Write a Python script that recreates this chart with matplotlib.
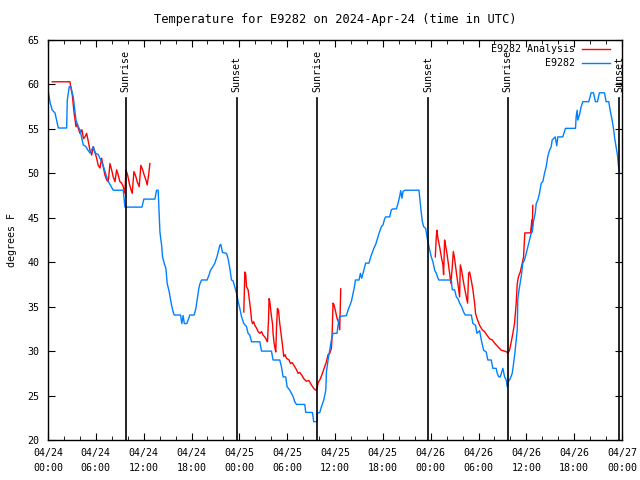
import pandas as pd
import matplotlib
matplotlib.use("Agg")
import matplotlib.pyplot as plt
import matplotlib.dates as mdates

plt.rcParams['font.family'] = ['DejaVu Sans Mono']
plt.rcParams['font.size'] = 7.2

start = pd.Timestamp("2024-04-24 00:00")

# hours since 04/24 00:00 UTC, temperature in F
obs_h = [0.0, 0.04, 0.25, 0.54, 0.88, 1.29, 2.34, 2.42, 2.67, 2.88, 3.05, 3.17, 3.51, 3.76, 4.01,
         4.42, 4.76, 5.01, 5.26, 5.68, 5.89, 6.3, 6.73, 7.02, 7.36, 7.56, 8.18, 9.44, 9.65, 11.78,
         12.03, 13.41, 13.62, 13.82, 13.91, 14.04, 14.25, 14.37, 14.57, 14.79, 14.95, 15.2, 15.38,
         15.54, 15.7, 15.83, 16.63, 16.79, 16.95, 17.1, 17.42, 17.79, 18.33, 18.55, 18.71, 18.92,
         19.05, 19.26, 19.96, 20.21, 20.39, 20.68, 20.93, 21.22, 21.55, 21.68, 21.89, 22.39, 22.59,
         22.81, 23.02, 23.22, 23.43, 23.65, 23.85, 24.06, 24.27, 24.56, 24.9, 25.1, 25.31, 25.53,
         26.57, 26.78, 28.03, 28.23, 29.07, 29.28, 29.49, 29.82, 29.99, 30.33, 30.54, 30.74, 30.95,
         31.17, 32.21, 32.33, 33.17, 33.33, 33.75, 33.76, 34.09, 34.3, 34.59, 34.84, 34.93, 35.13,
         35.34, 35.55, 35.75, 36.25, 36.38, 36.59, 37.43, 37.63, 37.84, 38.06, 38.26, 38.47, 38.56,
         39.01, 39.19, 39.35, 39.51, 39.85, 40.26, 40.48, 40.69, 40.89, 41.1, 41.31, 41.52, 41.82,
         42.02, 42.23, 42.36, 42.86, 43.07, 43.27, 43.7, 43.9, 44.11, 44.24, 44.4, 44.55, 44.82,
         46.53, 46.7, 46.83, 46.95, 47.12, 47.37, 47.53, 47.71, 47.87, 48.08, 48.28, 48.5, 48.71,
         48.91, 49.03, 50.59, 50.71, 51.0, 51.22, 51.42, 51.63, 51.88, 52.13, 52.34, 53.1, 53.3,
         53.63, 53.8, 54.14, 54.35, 54.64, 54.97, 55.17, 55.6, 55.8, 56.22, 56.35, 56.55, 56.73,
         57.06, 57.27, 57.48, 57.6, 57.77, 57.98, 58.23, 58.4, 58.56, 58.73, 58.86, 58.93, 59.15,
         59.36, 59.56, 59.77, 59.99, 60.19, 60.4, 60.61, 60.74, 60.9, 61.11, 61.24, 61.44, 61.65,
         61.87, 62.07, 62.28, 62.49, 62.69, 62.91, 63.12, 63.24, 63.41, 63.62, 63.82, 63.95, 64.57,
         64.91, 66.17, 66.25, 66.38, 66.45, 66.67, 66.88, 67.08, 67.83, 68.13, 68.42, 68.67, 68.92,
         69.17, 69.8, 70.01, 70.34, 70.51, 70.76, 70.93, 71.09, 71.26, 71.43, 71.55, 71.68]
obs_t = [59.3, 59.2, 58.0, 57.1, 56.8, 55.1, 55.1, 58.25, 59.75, 59.75, 59.0, 58.6, 56.0, 55.3, 54.9,
         53.2, 53.0, 52.6, 52.3, 53.0, 52.3, 52.1, 51.3, 50.6, 49.6, 49.1, 48.1, 48.1, 46.2, 46.2,
         47.1, 47.1, 48.1, 48.1, 46.1, 43.4, 41.9, 40.6, 39.9, 39.3, 37.6, 36.7, 35.75,
         35.0, 34.4, 34.06, 34.06, 33.1, 34.0, 33.1, 33.1, 34.06, 34.06, 34.8, 35.75, 37.06,
         37.55, 38.0, 38.0, 38.6, 39.1, 39.5, 39.9, 40.7, 41.9, 42.0, 41.1, 41.0, 40.4,
         39.3, 38.0, 37.9, 37.2, 36.5, 35.6, 34.8, 33.9, 33.1, 32.75, 32.0, 31.8, 31.05,
         31.05, 30.0, 30.0, 29.0, 29.0, 28.25, 27.1, 27.1, 26.0, 25.6, 25.25, 24.9, 24.3,
         24.0, 24.0, 23.1, 23.1, 22.06, 22.06, 23.0, 23.1, 23.75, 24.5, 25.6, 27.7, 29.0,
         30.1, 31.25, 32.0, 32.0, 32.9, 33.9, 34.0, 34.6, 35.1, 35.6, 36.5, 37.4, 38.0,
         38.0, 38.75, 38.2, 38.75, 39.9, 39.9, 40.6, 41.1, 41.6, 42.0, 42.6, 43.25, 44.0,
         44.2, 44.9, 45.1, 45.1, 45.9, 46.0, 46.0, 46.6, 47.4, 48.05, 47.2, 48.0, 48.1,
         48.1, 46.6, 45.5, 44.6, 44.0, 43.8, 42.9, 42.1, 41.4, 40.6, 40.05, 39.1, 38.75,
         38.2, 38.0, 38.0, 36.9, 36.9, 36.1, 35.9, 35.4, 35.0, 34.4, 34.06, 34.06, 33.1,
         32.9, 32.0, 32.3, 31.25, 30.1, 29.9, 29.0, 29.0, 28.06, 28.06, 27.5, 27.1, 27.1,
         28.06, 27.1, 26.75, 26.0, 26.6, 26.9, 27.5, 28.6, 29.75, 31.25, 32.4, 35.9, 37.25,
         38.4, 39.9, 40.25, 41.0, 41.75, 42.5, 43.25, 43.4, 44.6, 45.5, 46.6, 47.0, 47.75,
         48.9, 49.06, 50.0, 50.75, 51.9, 52.6, 53.0, 53.75, 53.9, 54.1, 53.1, 54.1, 54.1,
         55.06, 55.06, 56.4, 57.1, 56.0, 56.6, 57.5, 58.06, 58.06, 59.06, 59.06, 58.06, 58.06,
         59.06, 59.06, 58.06, 58.06, 57.1, 56.0, 55.06, 53.9, 53.0, 52.06, 50.9, 50.2]

# analysis, three separate runs
an1_h = [0.54, 2.76, 2.84, 3.05, 3.26, 3.51, 3.67, 3.8, 4.01, 4.26, 4.45, 4.64, 4.85, 5.05, 5.26,
         5.48, 5.68, 5.89, 6.1, 6.3, 6.52, 6.73, 6.93, 7.14, 7.36, 7.56, 7.77, 7.98, 8.18, 8.4,
         8.61, 8.81, 9.02, 9.24, 9.44, 9.65, 9.77, 9.99, 10.19, 10.36, 10.56, 10.78, 11.03, 11.19,
         11.44, 11.65, 11.87, 12.07, 12.28, 12.44, 12.62, 12.78]
an1_t = [60.3, 60.3, 59.75, 58.8, 56.9, 55.25, 55.6, 55.06, 54.5, 54.9, 53.9, 54.1, 54.5, 53.6, 52.6,
         52.06, 53.0, 52.4, 51.7, 50.9, 50.6, 51.7, 50.75, 49.8, 49.25, 49.06, 51.1, 50.4, 49.6, 49.06,
         50.4, 49.8, 49.06, 48.9, 48.5, 47.75, 50.4, 49.8, 48.9, 48.3, 47.75, 50.2, 49.6, 49.06,
         48.5, 50.9, 50.4, 49.8, 49.25, 48.7, 49.8, 51.1]
an2_h = [24.56, 24.69, 24.81, 24.9, 25.1, 25.31, 25.44, 25.53, 25.65, 25.81, 25.94, 26.15, 26.35,
         26.57, 26.78, 26.98, 27.19, 27.41, 27.53, 27.66, 27.73, 27.82, 28.03, 28.16, 28.23, 28.36,
         28.48, 28.57, 28.66, 28.78, 28.91, 29.07, 29.2, 29.41, 29.57, 29.74, 29.91, 30.24, 30.41,
         30.64, 30.95, 31.17, 31.37, 31.58, 31.83, 32.08, 32.42, 32.71, 33.04, 33.33, 33.58, 33.75,
         33.87, 34.17, 34.42, 34.71, 34.92, 35.13, 35.34, 35.55, 35.63, 35.75, 35.88, 36.09, 36.25,
         36.43, 36.59, 36.72]
an2_t = [34.4, 38.9, 38.6, 37.25, 36.9, 35.4, 34.4, 33.5, 33.1, 33.3, 32.9, 32.6, 32.2,
         32.0, 32.2, 31.8, 31.6, 31.25, 31.05, 33.5, 35.9, 35.6, 33.9, 33.1, 32.0, 30.9,
         30.3, 29.9, 32.6, 34.8, 34.6, 33.1, 32.2, 30.7, 29.4, 29.6, 29.2, 29.0, 28.6,
         28.7, 28.25, 27.9, 27.5, 27.6, 27.3, 26.9, 26.6, 26.7, 26.2, 25.8, 25.6, 25.8,
         26.4, 26.9, 27.5, 28.25, 28.8, 29.6, 29.75, 30.3, 31.6, 35.4, 35.2, 34.4, 33.7,
         33.3, 32.4, 37.0]
an3_h = [48.58, 48.71, 48.78, 48.91, 49.12, 49.34, 49.54, 49.62, 49.75, 49.87, 50.04, 50.21, 50.38,
         50.54, 50.71, 50.84, 50.97, 51.13, 51.29, 51.47, 51.63, 51.72, 51.88, 52.04, 52.22, 52.47,
         52.63, 52.76, 52.88, 53.09, 53.3, 53.51, 53.63, 53.8, 54.14, 54.47, 54.76, 55.05, 55.39,
         55.73, 56.02, 56.43, 56.85, 57.27, 57.56, 57.68, 57.89, 58.11, 58.31, 58.52, 58.73, 58.86,
         59.02, 59.24, 59.49, 59.65, 59.71, 59.81, 60.53, 60.69, 60.75, 60.81]
an3_t = [40.6, 42.9, 43.6, 42.7, 41.75, 40.6, 39.7, 38.6, 42.5, 41.9, 41.0, 39.9, 38.75,
         37.6, 39.5, 41.2, 40.6, 39.5, 38.4, 37.25, 36.1, 39.7, 39.1, 38.2, 37.25, 36.1,
         35.4, 38.75, 38.9, 38.0, 36.9, 35.4, 34.25, 33.7, 32.9, 32.4, 32.2, 31.8, 31.4,
         31.25, 30.9, 30.5, 30.1, 30.0, 29.9, 29.75, 30.1, 31.05, 32.0, 33.1, 35.4, 37.6,
         38.4, 38.9, 39.9, 40.6, 41.6, 43.3, 43.3, 44.75, 43.5, 46.4]

sun_h = [9.74, 23.65, 33.75, 47.66, 57.68, 71.62]
sun_lbl = ["Sunrise", "Sunset", "Sunrise", "Sunset", "Sunrise", "Sunset"]


def to_time(hours):
    return start + pd.to_timedelta(hours, unit="h")


fig = plt.figure(figsize=(6.4, 4.8), dpi=100)
ax = fig.add_axes([48 / 640, 40 / 480, 574 / 640, 400 / 480])

red = "#ff0000"
blue = "#0080ff"

for hh, tt in [(an1_h, an1_t), (an2_h, an2_t), (an3_h, an3_t)]:
    ax.plot(to_time(hh), tt, color=red, lw=1.0)
ax.plot(to_time(obs_h), obs_t, color=blue, lw=1.0)

for h, lbl in zip(sun_h, sun_lbl):
    t = to_time(h)
    ax.plot([t, t], [20, 58.5], color="black", lw=1.2)
    ax.text(t, 59.1, lbl, rotation=90, ha="center", va="bottom")

ax.set_xlim(to_time(0), to_time(72))
ax.set_ylim(20, 65)
ax.set_yticks(range(20, 66, 5))
ax.xaxis.set_major_locator(mdates.HourLocator(byhour=[0, 6, 12, 18]))
ax.xaxis.set_minor_locator(mdates.HourLocator(byhour=range(0, 24, 2)))
ax.xaxis.set_major_formatter(mdates.DateFormatter("%m/%d\n%H:%M"))
ax.tick_params(which="both", direction="in", top=True, right=True)
ax.tick_params(which="major", length=5, pad=6)
ax.tick_params(which="minor", length=3)
for lab in ax.get_xticklabels():
    lab.set_linespacing(1.6)
for s in ax.spines.values():
    s.set_linewidth(1.0)

ax.set_ylabel("degrees F", labelpad=8)
ax.set_title("Temperature for E9282 on 2024-Apr-24 (time in UTC)", pad=12)

# gnuplot style key, text right aligned before the sample line
ax.text(0.918, 0.9775, "E9282 Analysis", transform=ax.transAxes, ha="right", va="center")
ax.plot([0.930, 0.979], [0.9775, 0.9775], color=red, lw=1.0, transform=ax.transAxes)
ax.text(0.918, 0.9425, "E9282", transform=ax.transAxes, ha="right", va="center")
ax.plot([0.930, 0.979], [0.9425, 0.9425], color=blue, lw=1.0, transform=ax.transAxes)

fig.savefig("out.png", dpi=100)
